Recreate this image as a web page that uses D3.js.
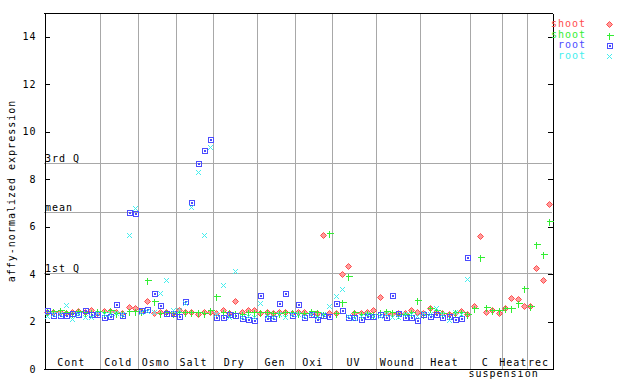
<!DOCTYPE html>
<html>
<head>
<meta charset="utf-8">
<script src="https://cdn.jsdelivr.net/npm/d3@7"></script>
<style>
  body { margin: 0; background: #fff; }
  svg text { font-family: "DejaVu Sans Mono", monospace; font-size: 10px; letter-spacing: 1px; }
</style>
</head>
<body>
<div id="chart"></div>
<script>
// experiment groups, number of samples in each
const groups = ["Cont", "Cold", "Osmo", "Salt", "Dry", "Gen", "Oxi", "UV", "Wound", "Heat", "C", "Heat", "rec"]
const groupSizes = [9, 6, 6, 6, 7, 6, 6, 7, 7, 8, 5, 4, 4]

// shoot rep1 (red), shoot rep2 (green), root rep1 (blue), root rep2 (cyan)
const shoot1 = [2.40, 2.41, 2.40, 2.36, 2.41, 2.45, 2.41, 2.48, 2.36,
  2.45, 2.45, 2.41, 2.38, 2.60, 2.55,
  2.45, 2.86, 2.37, 2.40, 2.40, 2.38,
  2.48, 2.41, 2.41, 2.31, 2.41, 2.41,
  2.36, 2.48, 2.36, 2.85, 2.41, 2.50, 2.50,
  2.36, 2.41, 2.36, 2.41, 2.41, 2.36,
  2.41, 2.41, 2.36, 2.36, 5.63, 2.36,
  2.36, 4.02, 4.32, 2.36, 2.36, 2.41, 2.48,
  3.05, 2.36, 2.33, 2.36, 2.36, 2.50, 2.41,
  2.36, 2.55, 2.41, 2.36, 2.31, 2.36, 2.45, 2.33,
  2.65, 5.59, 2.42, 2.50, 2.38,
  2.55, 3.01, 2.94, 2.67,
  2.65, 4.24, 3.77, 6.94]
const shoot2 = [2.45, 2.45, 2.50, 2.41, 2.36, 2.45, 2.41, 2.41, 2.45,
  2.41, 2.48, 2.36, 2.38, 2.45, 2.45,
  2.45, 3.77, 2.86, 2.37, 2.40, 2.38,
  2.42, 2.41, 2.41, 2.41, 2.36, 2.48,
  3.06, 2.41, 2.41, 2.36, 2.31, 2.41, 2.41,
  2.41, 2.41, 2.36, 2.36, 2.41, 2.41,
  2.36, 2.36, 2.45, 2.41, 2.33, 5.75,
  2.36, 2.84, 3.91, 2.41, 2.33, 2.36, 2.33,
  2.41, 2.45, 2.41, 2.33, 2.33, 2.41, 2.89,
  2.33, 2.59, 2.50, 2.36, 2.33, 2.41, 2.41, 2.31,
  2.55, 4.74, 2.60, 2.50, 2.48,
  2.59, 2.57, 2.76, 3.43,
  2.65, 5.25, 4.83, 6.22]
const root1 = [2.48, 2.27, 2.27, 2.27, 2.36, 2.33, 2.48, 2.30, 2.30,
  2.20, 2.22, 2.72, 2.27, 6.60, 6.56,
  2.48, 2.52, 3.21, 2.69, 2.34, 2.34,
  2.22, 2.85, 7.02, 8.67, 9.21, 9.68,
  2.19, 2.19, 2.33, 2.26, 2.15, 2.12, 2.08,
  3.10, 2.15, 2.15, 2.80, 3.21, 2.26,
  2.72, 2.19, 2.31, 2.12, 2.26, 2.22,
  2.80, 2.50, 2.19, 2.19, 2.12, 2.22, 2.22,
  2.30, 2.19, 3.10, 2.38, 2.19, 2.19, 2.06,
  2.30, 2.22, 2.33, 2.17, 2.22, 2.12, 2.15, 4.74,
  null, null, null, null, null, null, null, null, null, null, null, null, null]
const root2 = [2.22, 2.30, 2.30, 2.69, 2.12, 2.30, 2.20, 2.20, 2.36,
  2.30, 2.33, 2.38, 2.33, 5.64, 6.77,
  2.40, 2.45, 2.40, 3.20, 3.74, 2.50,
  2.50, 2.78, 6.81, 8.30, 5.63, 9.34,
  2.30, 3.56, 2.20, 4.15, 2.19, 2.25, 2.19,
  2.80, 2.25, 2.19, 2.30, 2.19, 2.30,
  2.33, 2.25, 2.30, 2.19, 2.33, 2.64,
  3.06, 3.35, 2.22, 2.15, 2.25, 2.30, 2.25,
  2.25, 2.30, 2.19, 2.19, 2.30, 2.30, 2.25,
  2.36, 2.33, 2.59, 2.30, 2.08, 2.41, 2.30, 3.81,
  null, null, null, null, null, null, null, null, null, null, null, null, null]

// reference lines
const refNames = ["3rd Q", "mean", "1st Q"]
const refValues = [8.68, 6.61, 4.06]
const yTicks = [0, 2, 4, 6, 8, 10, 12, 14]

const W = 640, H = 384
const mLeft = 44, mRight = 552, mTop = 13, mBottom = 369
const nSamples = d3.sum(groupSizes)

const x = d3.scaleLinear().domain([0.5, nSamples + 0.5]).range([mLeft, mRight])
const y = d3.scaleLinear().domain([0, 15]).range([mBottom, mTop])

const svg = d3.select("#chart").append("svg").attr("width", W).attr("height", H)
  .attr("shape-rendering", "crispEdges")

const px = v => Math.round(v) + 0.5

// group boundaries
var bounds = []
var acc = 0
groupSizes.forEach((n, i) => {
  bounds.push({ start: acc + 0.5, end: acc + n + 0.5, name: groups[i] })
  acc += n
})

svg.append("g").selectAll("line").data(bounds.slice(0, -1)).join("line")
  .attr("x1", d => px(x(d.end))).attr("x2", d => px(x(d.end)))
  .attr("y1", mTop).attr("y2", mBottom)
  .attr("stroke", "#a8a8a8")

// horizontal reference lines
svg.append("g").selectAll("line").data(refValues).join("line")
  .attr("x1", mLeft).attr("x2", mRight)
  .attr("y1", d => px(y(d))).attr("y2", d => px(y(d)))
  .attr("stroke", "#a8a8a8")
svg.append("g").selectAll("text").data(refValues).join("text")
  .attr("x", mLeft + 1).attr("y", d => Math.round(y(d)) - 1)
  .text((d, i) => refNames[i])

// frame
svg.append("line").attr("x1", mLeft).attr("x2", mRight + 0.5).attr("y1", mTop + 0.5).attr("y2", mTop + 0.5).attr("stroke", "#000")
svg.append("line").attr("x1", mLeft).attr("x2", mRight + 0.5).attr("y1", mBottom + 0.5).attr("y2", mBottom + 0.5).attr("stroke", "#000")

const yAxisL = d3.axisLeft(y).tickValues(yTicks).tickSizeInner(-5).tickSizeOuter(0).tickPadding(8)
const gL = svg.append("g").attr("transform", `translate(${mLeft + 0.5},0)`).call(yAxisL)
gL.attr("font-family", null).attr("font-size", null)
gL.selectAll("text").attr("fill", "#000")

const yAxisR = d3.axisRight(y).tickValues(yTicks).tickSizeInner(-5).tickSizeOuter(0).tickFormat("")
svg.append("g").attr("transform", `translate(${mRight + 0.5},0)`).call(yAxisR)

svg.selectAll(".domain, .tick line").attr("stroke", "#000")

// group labels
svg.append("g").selectAll("text").data(bounds).join("text")
  .attr("x", d => (x(d.start) + x(d.end)) / 2 - 1)
  .attr("y", 366)
  .attr("text-anchor", "middle")
  .text(d => d.name)
svg.append("text").attr("x", x(bounds[10].start) - 2).attr("y", 377).text("suspension")

svg.append("text")
  .attr("transform", `translate(15,${(mTop + mBottom) / 2}) rotate(-90)`)
  .attr("text-anchor", "middle")
  .text("affy-normalized expression")

// markers
const seriesList = [
  { name: "shoot", values: shoot1, color: "#ff4c4c", shape: "diamond" },
  { name: "shoot", values: shoot2, color: "#33ee33", shape: "plus" },
  { name: "root", values: root1, color: "#4c4cff", shape: "square" },
  { name: "root", values: root2, color: "#44eeee", shape: "x" }
]

const shapes = {
  diamond: "M0,-3L3,0L0,3L-3,0Z",
  plus: "M-3,0H4M0,-3V4",
  square: "M-2.5,-2.5h5v5h-5zM-0.5,-0.5h1v1h-1z",
  x: "M-2.5,-2.5L2.5,2.5M-2.5,2.5L2.5,-2.5"
}

function drawMarker(sel, s) {
  sel.append("path")
    .attr("d", shapes[s.shape])
    .attr("fill", s.shape == "diamond" ? "#ff9c9c" : "none")
    .attr("stroke", s.color)
    .attr("stroke-width", 1)
    .attr("shape-rendering", s.shape == "square" || s.shape == "plus" ? "crispEdges" : "auto")
}

seriesList.forEach(s => {
  const pts = s.values.map((v, i) => ({ i: i + 1, v: v })).filter(d => d.v != null)
  svg.append("g").selectAll("g").data(pts).join("g")
    .attr("transform", d => `translate(${px(x(d.i))},${px(y(d.v))})`)
    .each(function () { drawMarker(d3.select(this), s) })
})

// legend
const legend = svg.append("g")
seriesList.forEach((s, i) => {
  const cy = 24 + i * 10.7
  legend.append("text").attr("x", 586).attr("y", Math.round(cy + 3)).attr("text-anchor", "end")
    .attr("fill", s.color).text(s.name)
  const g = legend.append("g").attr("transform", `translate(609.5,${Math.round(cy) + 0.5})`)
  drawMarker(g, s)
})
</script>
</body>
</html>
